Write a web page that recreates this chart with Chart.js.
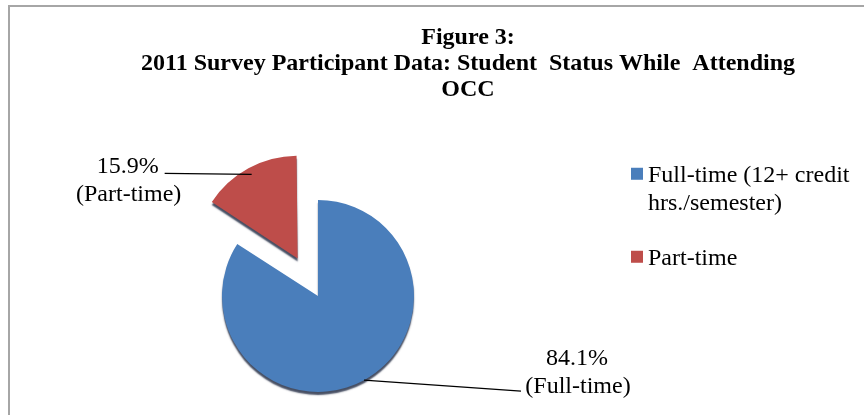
<!DOCTYPE html>
<html>
<head>
<meta charset="utf-8">
<script src="https://cdn.jsdelivr.net/npm/chart.js@4.4.0/dist/chart.umd.min.js"></script>
<style>
    html, body { margin: 0; padding: 0; background: #fff; }
    #wrap { position: relative; width: 864px; height: 415px; overflow: hidden; }
    #frame { position: absolute; left: 8px; top: 5px; width: 900px; height: 500px; border-top: 2px solid #a6a6a6; border-left: 2px solid #a6a6a6; }
    canvas { position: absolute; left: 0; top: 0; }
</style>
</head>
<body>
<div id="wrap">
    <div id="frame"></div>
    <canvas id="statusChart" width="864" height="415"></canvas>
</div>
<script>
// Data
const categories = ['Full-time (12+ credit hrs./semester)', 'Part-time'];
const shortNames = ['Full-time', 'Part-time'];
const percents = [84.1, 15.9];
const titleLines = ['Figure 3:', '2011 Survey Participant Data: Student  Status While  Attending', 'OCC'];

const colors = ['#4a7ebb', '#be4d4a'];
const serif = "'Liberation Serif', 'Times New Roman', serif";

// where each data label sits, relative to the point on the slice edge
const labelPlacement = [
    { dx: 213, dy: -21, lx: 157, ly: 11 },
    { dx: -124, dy: -8, lx: -87, ly: -1 }
];

// wrap a legend text to a max width
function wrapText(ctx, text, maxWidth) {
    const words = text.split(' ');
    const lines = [];
    let line = '';
    words.forEach(w => {
        const test = line ? line + ' ' + w : w;
        if (ctx.measureText(test).width > maxWidth && line) {
            lines.push(line);
            line = w;
        } else {
            line = test;
        }
    });
    lines.push(line);
    return lines;
}

// legend as a layout box on the right side
const sideLegend = {
    id: 'sideLegend',
    beforeInit(chart) {
        const box = {
            position: 'right',
            weight: 0,
            fullSize: false,
            options: {},
            width: 0, height: 0, left: 0, top: 0, right: 0, bottom: 0,
            isHorizontal() { return false; },
            update(maxWidth, maxHeight) {
                this.width = 300;
                this.height = maxHeight;
            },
            draw() {
                const ctx = chart.ctx;
                ctx.save();
                ctx.font = '24px ' + serif;
                ctx.textBaseline = 'middle';
                ctx.textAlign = 'left';
                let y = this.top - 1;
                categories.forEach((cat, i) => {
                    ctx.fillStyle = colors[i];
                    ctx.fillRect(this.left + 67, y - 8, 12, 12);
                    ctx.fillStyle = '#000';
                    const lines = wrapText(ctx, cat, 212);
                    lines.forEach((ln, j) => {
                        ctx.fillText(ln, this.left + 84, y + j * 28);
                    });
                    y += lines.length * 28 + 27;
                });
                ctx.restore();
            }
        };
        Chart.layouts.addBox(chart, box);
    }
};

// soft shadow under the slices for the raised look
const sliceShadow = {
    id: 'sliceShadow',
    beforeDatasetsDraw(chart) {
        const ctx = chart.ctx;
        ctx.save();
        ctx.shadowColor = 'rgba(25, 35, 60, 0.8)';
        ctx.shadowOffsetX = 0;
        ctx.shadowOffsetY = 3;
        ctx.shadowBlur = 1.5;
    },
    afterDatasetsDraw(chart) {
        chart.ctx.restore();
    }
};

// percentage labels with leader lines
const sliceLabels = {
    id: 'sliceLabels',
    afterDatasetsDraw(chart) {
        const ctx = chart.ctx;
        const meta = chart.getDatasetMeta(0);
        ctx.save();
        ctx.font = '24px ' + serif;
        ctx.fillStyle = '#000';
        ctx.strokeStyle = '#000';
        ctx.lineWidth = 1.3;
        ctx.textAlign = 'center';
        ctx.textBaseline = 'middle';
        meta.data.forEach((arc, i) => {
            const p = arc.getProps(['x', 'y', 'startAngle', 'endAngle', 'outerRadius']);
            const mid = (p.startAngle + p.endAngle) / 2;
            const shift = (arc.options.offset || 0) / 4;
            const ax = p.x + Math.cos(mid) * (p.outerRadius + shift);
            const ay = p.y + Math.sin(mid) * (p.outerRadius + shift);
            const pl = labelPlacement[i];
            ctx.beginPath();
            ctx.moveTo(ax, ay);
            ctx.lineTo(ax + pl.lx, ay + pl.ly);
            ctx.stroke();
            ctx.fillText(percents[i].toFixed(1) + '%', ax + pl.dx, ay + pl.dy);
            ctx.fillText('(' + shortNames[i] + ')', ax + pl.dx + 1, ay + pl.dy + 28);
        });
        ctx.restore();
    }
};

const config = {
    type: 'pie',
    data: {
        labels: categories,
        datasets: [{
            data: percents,
            backgroundColor: colors,
            borderWidth: 0,
            offset: [0, 170]
        }]
    },
    options: {
        responsive: false,
        animation: false,
        radius: 96,
        layout: { padding: { left: 72, right: 0, top: 0, bottom: 0 } },
        plugins: {
            legend: { display: false },
            tooltip: { enabled: false },
            title: {
                display: true,
                text: titleLines,
                color: '#000',
                font: { family: serif, size: 24, weight: 'bold', lineHeight: 1.08 },
                padding: { top: 25, bottom: 74 }
            }
        }
    },
    plugins: [sideLegend, sliceShadow, sliceLabels]
};

const ctx = document.getElementById('statusChart').getContext('2d');
new Chart(ctx, config);
</script>
</body>
</html>
